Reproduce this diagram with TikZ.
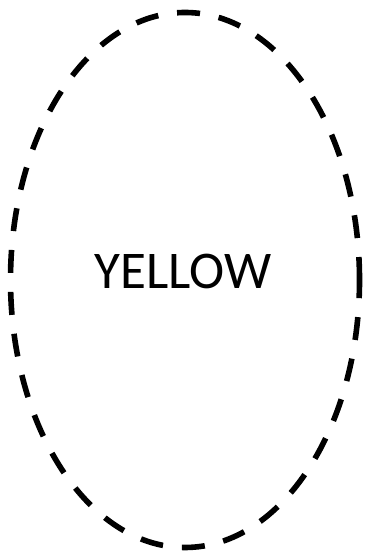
\documentclass[tikz,border=0pt]{standalone}
\usepackage{fontspec}
\setmainfont{Carlito}
\usetikzlibrary{shapes.geometric}

\begin{document}
\begin{tikzpicture}[
      x = 0.5pt, y = 0.5pt,
      ring/.style={
        ellipse,
        draw = black,
        line width = 2.8pt,
        dash pattern = on 11.5pt off 9.5pt,
        minimum width = 174.5pt,
        minimum height = 267.5pt,
        inner sep = 0pt,
      },
      word/.style={
        font = \fontsize{26.5pt}{31pt}\selectfont,
        inner sep = 0pt,
      },
    ]
    \useasboundingbox (0,0) rectangle (370,555);
    \node[ring] (shell) at (185,275) {};
    \node[word] (label) at (183,284) {YELLOW};
  \end{tikzpicture}
\end{document}
